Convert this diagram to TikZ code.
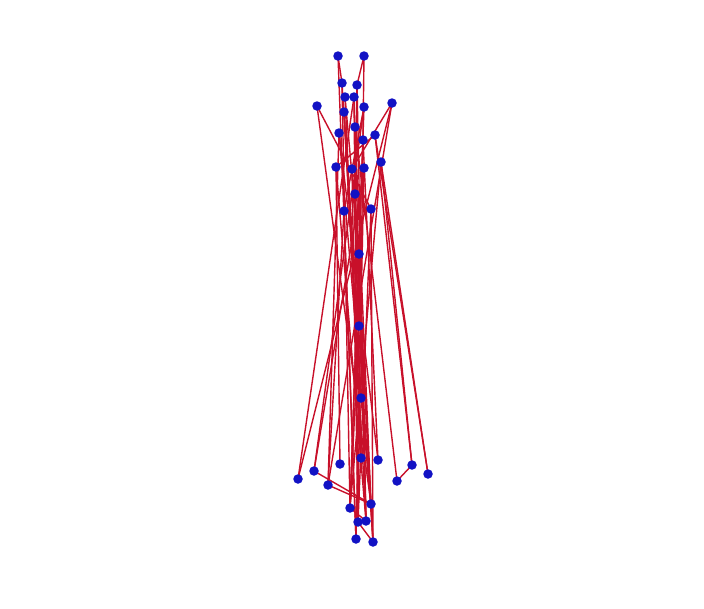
\documentclass[tikz,border=0pt]{standalone}
\usepackage{tikz}
\definecolor{vertexfill}{RGB}{18,18,196}
\definecolor{linkred}{RGB}{200,16,42}
\tikzset{
    vertex/.style={
        circle, fill=vertexfill, draw=none, inner sep=0pt, minimum size=9.5pt
    },
    link/.style={draw=linkred, line width=1.4pt}
}

\begin{document}
\begin{tikzpicture}[x=1pt, y=-1pt]

\useasboundingbox (0,0) rectangle (704,608);

% Vertices (top cluster, middle, bottom cluster)
\foreach \name/\px/\py in {
    t1/338/56, t2/364/56, t3/342/83, t4/357/85, t5/345/97, t6/354/97,
    t7/317/106, t8/392/103, t9/344/112, t10/364/107, t11/355/127,
    t12/339/133, t13/375/135, t14/363/140, t15/336/167, t16/352/169,
    t17/364/168, t18/381/162, t19/355/194, t20/344/211, t21/371/209,
    t22/359/254, m1/359/326, m2/361/398,
    b1/361/458, b2/378/460, b3/340/464, b4/412/465, b5/314/471,
    b6/428/474, b7/298/479, b8/397/481, b9/328/485, b10/371/504,
    b11/350/508, b12/358/522, b13/366/521, b14/356/539, b15/373/542}
    \coordinate (\name) at (\px,\py);

% Links
\begin{scope}
\foreach \a/\b in {
    t1/b14, t1/t3, t2/t4, t2/b12, t3/b11, t4/b13, t4/t19, t5/b1,
    t6/b7, t6/b12, t7/b10, t7/t21, t8/t16, t8/b7, t8/b9, t18/b4,
    t9/b15, t9/b13, t10/b5, t10/b11, t11/b8, t11/b10, t12/b9,
    t12/b2, t13/b4, t13/b6, t13/t15, t14/b2, t14/b11, t15/b3,
    t15/b13, t16/b12, t16/b10, t17/b5, t17/b14, t18/b6, t18/b11,
    t19/b1, t19/b15, t20/b9, t20/b14, t21/b15, t21/b12, t22/m1,
    t22/b13, t5/t22, t3/m2, m1/b11, m2/b10, t10/t20, t6/b13,
    t12/b10, b4/b8, b5/b10, b9/b10, b15/b12, b15/b10, b11/b13}
    \draw[link] (\a) -- (\b);
\end{scope}

% Vertex marks on top of the links
\foreach \name in {t1,t2,t3,t4,t5,t6,t7,t8,t9,t10,t11,t12,t13,t14,t15,
    t16,t17,t18,t19,t20,t21,t22,m1,m2,b1,b2,b3,b4,b5,b6,b7,b8,b9,
    b10,b11,b12,b13,b14,b15}
    \node[vertex] (v\name) at (\name) {};

\end{tikzpicture}
\end{document}
